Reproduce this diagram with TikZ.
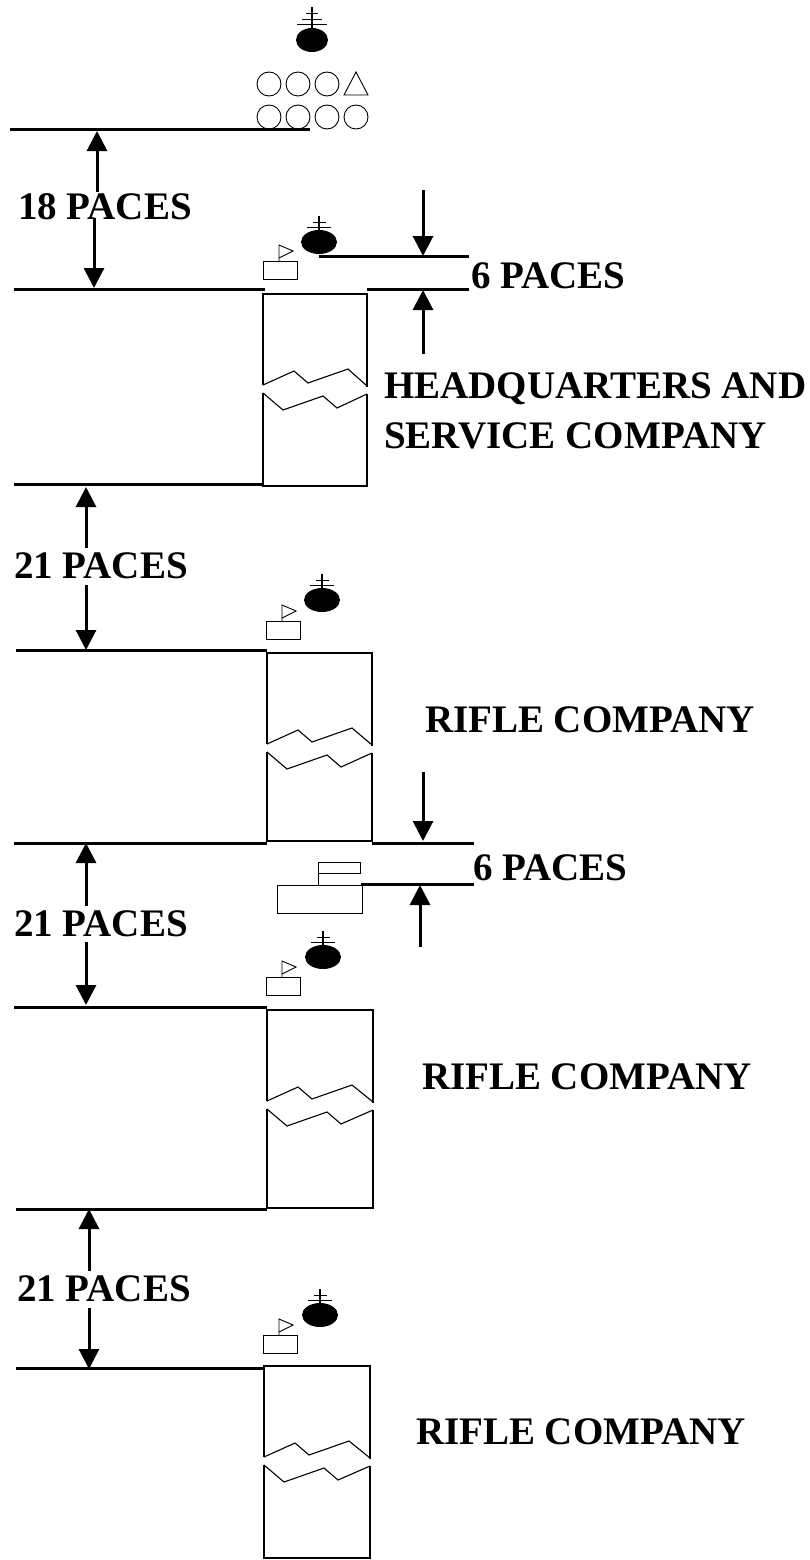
\documentclass[tikz,border=0pt]{standalone}
\usepackage{fontspec}
\setmainfont{Liberation Serif}
\usetikzlibrary{arrows.meta}
\tikzset{
  thickline/.style={line width=3pt,black},
  thinline/.style={line width=1.1pt,black,line join=miter},
  hairline/.style={line width=.9pt,black,line join=miter},
  dimarrow/.style={line width=3pt,black,-{Triangle[length=20pt,width=20pt]},shorten >=0pt},
  lab/.style={anchor=base west,inner sep=0pt,outer sep=0pt,font=\bfseries\fontsize{39}{39}\selectfont},
}
\newcommand{\leaderfig}[2]{%
  \fill[black] (#1,#2) ellipse [x radius=18pt,y radius=12pt];
  \draw[thinline] (#1,#2-26) -- (#1,#2-10);
  \draw[hairline] (#1-12,#2-15) -- (#1+12,#2-15);
  \draw[hairline] (#1-6.5,#2-20) -- (#1+6.5,#2-20);
}
\newcommand{\guidon}[2]{% box left, box top
  \draw[hairline] (#1,#2) rectangle (#1+34,#2+18);
  \draw[hairline] (#1+16,#2) -- (#1+16,#2-16) -- (#1+30,#2-10) -- (#1+16,#2-3);
}
\newcommand{\company}[4]{% left, right, top, bottom
  \draw[thinline] (#1,#3+91) -- (#1,#3) -- (#2,#3) -- (#2,#3+93);
  \draw[thinline] (#1,#3+91) -- (#1+31,#3+77) -- (#1+45,#3+89) -- (#1+85,#3+75) -- (#2,#3+92);
  \draw[thinline] (#1,#3+99) -- (#1+20,#3+116) -- (#1+60,#3+102) -- (#1+74,#3+114) -- (#2,#3+100);
  \draw[thinline] (#1,#3+99) -- (#1,#4) -- (#2,#4) -- (#2,#3+100);
}
\begin{document}
\begin{tikzpicture}[x=1pt,y=-1pt]
\useasboundingbox (0,0) rectangle (810,1560);
\fill[white] (0,0) rectangle (810,1560);

% top group
\fill[black] (312,40) ellipse [x radius=16pt,y radius=12pt];
\draw[thinline] (312,7) -- (312,28);
\draw[hairline] (297,24) -- (327,24);
\draw[hairline] (302,19) -- (322,19);
\draw[hairline] (306,13) -- (318,13);
\foreach \cx in {269,298,327} \draw[hairline] (\cx,84) circle [radius=12pt];
\draw[hairline] (356,72) -- (368,95) -- (344,95) -- cycle;
\foreach \cx in {269,298,327,356} \draw[hairline] (\cx,117) circle [radius=12pt];
\draw[thickline] (10,130) -- (310,130);

% HQ company
\leaderfig{319}{242}
\guidon{263}{261}
\company{263}{367}{294}{486}
\draw[thickline] (319,256) -- (469,256);
\draw[thickline] (14,289) -- (265,289);
\draw[thickline] (367,289) -- (469,289);
\draw[thickline] (14,484) -- (263,484);

% rifle company 1
\leaderfig{322}{600}
\guidon{266}{621}
\company{267}{372}{653}{841}
\draw[thickline] (16,650) -- (267,650);
\draw[thickline] (14,843) -- (267,843);
\draw[thickline] (372,843) -- (474,843);

% battalion staff block
\draw[hairline] (277,885) rectangle (362,913);
\draw[hairline] (318,885) -- (318,862) rectangle (360,873);
\draw[thickline] (361,884) -- (474,884);

% rifle company 2
\leaderfig{323}{957}
\guidon{266}{977}
\company{267}{373}{1010}{1208}
\draw[thickline] (14,1007) -- (267,1007);
\draw[thickline] (16,1209) -- (267,1209);

% rifle company 3
\leaderfig{320}{1315}
\guidon{263}{1335}
\company{264}{370}{1366}{1558}
\draw[thickline] (16,1368) -- (264,1368);

% labels
\node[lab] (p18) at (18,219) {18 PACES};
\node[lab] (p6a) at (471,288) {6 PACES};
\node[lab] (hq1) at (384,398) {HEADQUARTERS AND};
\node[lab] (hq2) at (384,448) {SERVICE COMPANY};
\node[lab] (p21a) at (14,578) {21 PACES};
\node[lab] (rc1) at (425,732) {RIFLE COMPANY};
\node[lab] (p6b) at (473,880) {6 PACES};
\node[lab] (p21b) at (14,936) {21 PACES};
\node[lab] (rc2) at (422,1089) {RIFLE COMPANY};
\node[lab] (p21c) at (17,1301) {21 PACES};
\node[lab] (rc3) at (416,1444) {RIFLE COMPANY};

% dimension arrows
\coordinate (a1s) at (97,192); \coordinate (a1e) at (97,131);
\coordinate (a2s) at (94,218); \coordinate (a2e) at (94,288);
\coordinate (a3s) at (423,190); \coordinate (a3e) at (423,256);
\coordinate (a4s) at (423,354); \coordinate (a4e) at (423,290);
\coordinate (a5s) at (86,548); \coordinate (a5e) at (86,487);
\coordinate (a6s) at (86,585); \coordinate (a6e) at (86,650);
\coordinate (a7s) at (423,772); \coordinate (a7e) at (423,841);
\coordinate (a8s) at (420,947); \coordinate (a8e) at (420,885);
\coordinate (a9s) at (86,906); \coordinate (a9e) at (86,843);
\coordinate (a10s) at (86,942); \coordinate (a10e) at (86,1005);
\coordinate (a11s) at (89,1271); \coordinate (a11e) at (89,1209);
\coordinate (a12s) at (89,1308); \coordinate (a12e) at (89,1369);
\foreach \i in {1,...,12} \draw[dimarrow] (a\i s) -- (a\i e);
\end{tikzpicture}
\end{document}
